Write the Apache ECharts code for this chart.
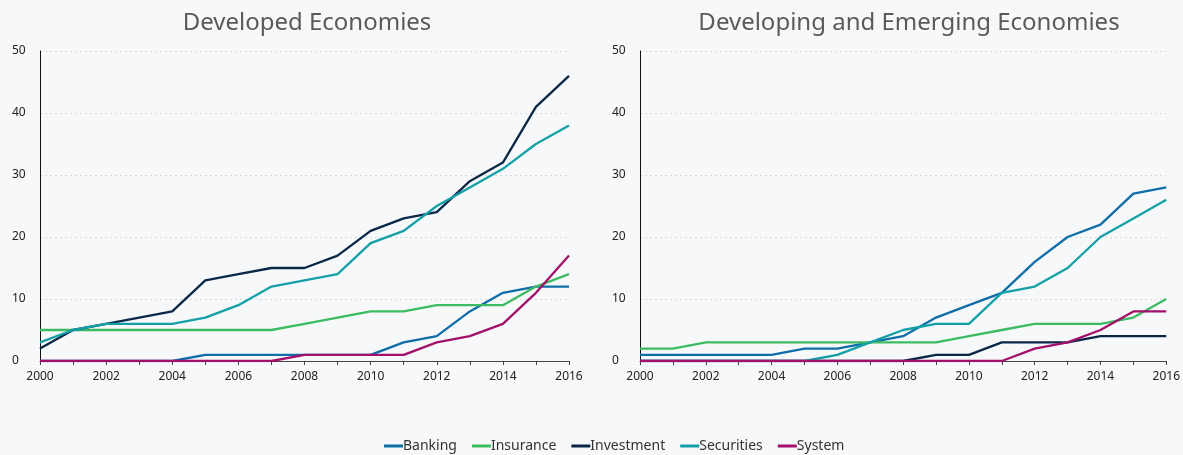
<!DOCTYPE html>
<html>
<head>
<meta charset="utf-8">
<script src="https://cdn.jsdelivr.net/npm/echarts@6/dist/echarts.min.js"></script>
<style>
html,body{margin:0;padding:0;background:#f6f8fa;}
#c{width:1183px;height:455px;}
</style>
</head>
<body>
<div id="c"></div>
<script>
const years = ['2000','2001','2002','2003','2004','2005','2006','2007','2008','2009','2010','2011','2012','2013','2014','2015','2016'];
const seriesNames = ['Banking','Insurance','Investment','Securities','System'];
const colors = ['#0f6ea8','#3dbb62','#0b2748','#14a0a6','#a3106b'];
const titles = ['Developed Economies','Developing and Emerging Economies'];

// Developed Economies
const devBanking    = [0,0,0,0,0,1,1,1,1,1,1,3,4,8,11,12,12];
const devInsurance  = [5,5,5,5,5,5,5,5,6,7,8,8,9,9,9,12,14];
const devInvestment = [2,5,6,7,8,13,14,15,15,17,21,23,24,29,32,41,46];
const devSecurities = [3,5,6,6,6,7,9,12,13,14,19,21,25,28,31,35,38];
const devSystem     = [0,0,0,0,0,0,0,0,1,1,1,1,3,4,6,11,17];

// Developing and Emerging Economies
const emBanking    = [1,1,1,1,1,2,2,3,4,7,9,11,16,20,22,27,28];
const emInsurance  = [2,2,3,3,3,3,3,3,3,3,4,5,6,6,6,7,10];
const emInvestment = [0,0,0,0,0,0,0,0,0,1,1,3,3,3,4,4,4];
const emSecurities = [0,0,0,0,0,0,1,3,5,6,6,11,12,15,20,23,26];
const emSystem     = [0,0,0,0,0,0,0,0,0,0,0,0,2,3,5,8,8];

const yTicks = {min:0, max:50, interval:10};

const panels = [
  [devBanking, devInsurance, devInvestment, devSecurities, devSystem],
  [emBanking, emInsurance, emInvestment, emSecurities, emSystem]
];

const font = '"Noto Sans", "Open Sans", sans-serif';
const grids = [
  {left:40, width:529, top:51, height:310},
  {left:640, width:529, top:51, height:310}
];
const titleCenters = [302, 904];

const option = {
  backgroundColor:'#f6f8fa',
  animation:false,
  title: titles.map((t,i)=>({
    text:t, left: titleCenters[i], top:6, textAlign:'center',
    textStyle:{fontFamily:font, fontSize:24, fontWeight:'normal', color:'#5a5a5a'}
  })),
  legend:{
    data: seriesNames, bottom:-3, left:379, itemGap:15,
    itemWidth:19, itemHeight:3, icon:'rect',
    textStyle:{fontFamily:font, fontSize:14, color:'#333', padding:[0,0,0,-5]}
  },
  grid: grids,
  xAxis: grids.map((g,i)=>({
    type:'category', gridIndex:i, data:years, boundaryGap:false,
    axisLine:{lineStyle:{color:'#444', width:1}},
    axisTick:{show:true, interval:0, length:4, lineStyle:{color:'#444'}},
    axisLabel:{interval:1, fontFamily:font, fontSize:12, color:'#222', margin:10},
    splitLine:{show:false}
  })),
  yAxis: grids.map((g,i)=>({
    type:'value', gridIndex:i, min:yTicks.min, max:yTicks.max, interval:yTicks.interval,
    axisLine:{show:true, lineStyle:{color:'#111', width:1}},
    axisTick:{show:false},
    axisLabel:{fontFamily:font, fontSize:12, color:'#222', align:'left', margin:28},
    splitLine:{show:true, lineStyle:{color:'#d6d9dc', type:[2,3]}}
  })),
  series: []
};

panels.forEach((p,pi)=>{
  p.forEach((d,si)=>{
    option.series.push({
      name: seriesNames[si], type:'line', xAxisIndex:pi, yAxisIndex:pi,
      data:d, symbol:'none', color:colors[si],
      lineStyle:{width:2.3, color:colors[si]}, z:2+si
    });
  });
});

const chart = echarts.init(document.getElementById('c'), null, {renderer:'canvas'});
chart.setOption(option);
</script>
</body>
</html>
